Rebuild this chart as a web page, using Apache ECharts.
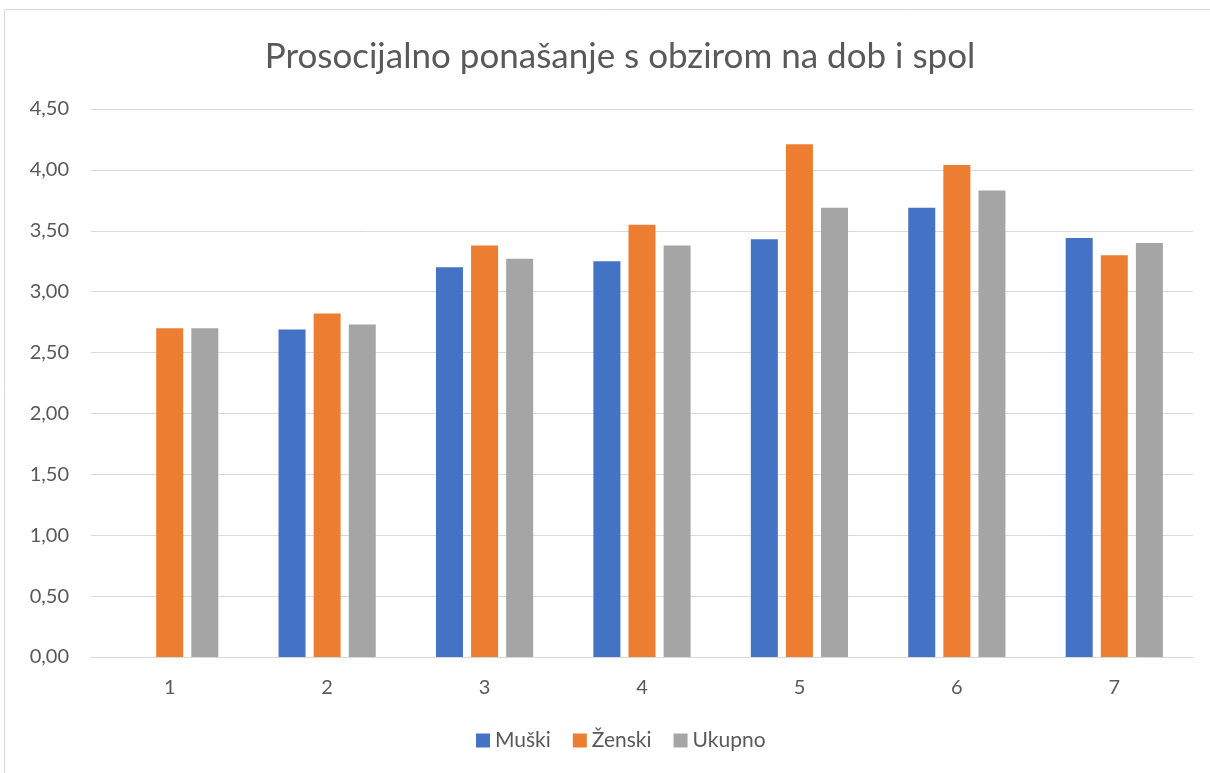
<!DOCTYPE html>
<html>
<head>
<meta charset="utf-8">
<script src="https://cdn.jsdelivr.net/npm/echarts@6/dist/echarts.min.js"></script>
<style>
html,body{margin:0;padding:0;background:#fff;}
#c{width:1210px;height:773px;}
</style>
</head>
<body>
<div id="c"></div>
<script>
const categories = ['1','2','3','4','5','6','7'];
const muski = [null, 2.69, 3.20, 3.25, 3.43, 3.69, 3.44];
const zenski = [2.70, 2.82, 3.38, 3.55, 4.21, 4.04, 3.30];
const ukupno = [2.70, 2.73, 3.27, 3.38, 3.69, 3.83, 3.40];
const seriesNames = ['Muški', 'Ženski', 'Ukupno'];
const colors = ['#4472C4', '#ED7D31', '#A5A5A5'];

const font = 'Lato, "Open Sans", sans-serif';
const chart = echarts.init(document.getElementById('c'), null, {renderer: 'canvas'});
chart.setOption({
  animation: false,
  color: colors,
  graphic: [{
    type: 'rect', silent: true,
    shape: {x: 4.5, y: 9.5, width: 1220, height: 800},
    style: {fill: 'none', stroke: '#d9d9d9', lineWidth: 1}
  }],
  title: {
    text: 'Prosocijalno ponašanje s obzirom na dob i spol',
    left: 615, textAlign: 'center', top: 34,
    textStyle: {fontFamily: font, fontSize: 35, fontWeight: 'normal', color: '#595959'}
  },
  legend: {
    data: seriesNames, bottom: 17, left: 471,
    itemWidth: 14, itemHeight: 14, itemGap: 22, icon: 'rect',
    textStyle: {fontFamily: font, fontSize: 21, color: '#595959', padding: [0, 0, 0, 0]}
  },
  grid: {left: 91, right: 17, top: 109, bottom: 116, containLabel: false},
  xAxis: {
    type: 'category', data: categories,
    axisLine: {lineStyle: {color: '#d9d9d9', width: 1}},
    axisTick: {show: false},
    axisLabel: {fontFamily: font, fontSize: 20, color: '#595959', margin: 21}
  },
  yAxis: {
    type: 'value', min: 0, max: 4.5, interval: 0.5,
    axisLine: {show: false}, axisTick: {show: false},
    splitLine: {lineStyle: {color: '#d9d9d9', width: 1}},
    axisLabel: {
      fontFamily: font, fontSize: 20, color: '#595959', margin: 22,
      formatter: v => v.toFixed(2).replace('.', ',')
    }
  },
  series: [
    {name: seriesNames[0], type: 'bar', data: muski, barWidth: 27, barGap: '30%'},
    {name: seriesNames[1], type: 'bar', data: zenski, barWidth: 27, barGap: '30%'},
    {name: seriesNames[2], type: 'bar', data: ukupno, barWidth: 27, barGap: '30%'}
  ]
});
</script>
</body>
</html>
